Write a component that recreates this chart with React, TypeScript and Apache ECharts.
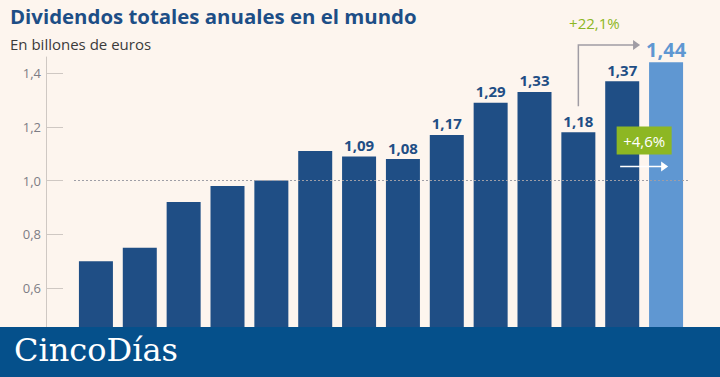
import React, { useEffect, useRef } from "react";
import * as echarts from "echarts";

const categories = ["2009", "2010", "2011", "2012", "2013", "2014", "2015", "2016", "2017", "2018", "2019", "2020", "2021", "2022"];
const values = [0.70, 0.75, 0.92, 0.98, 1.00, 1.11, 1.09, 1.08, 1.17, 1.29, 1.33, 1.18, 1.37, 1.44];
const labeledFrom = 6;
const yTicks = [0.6, 0.8, 1.0, 1.2, 1.4];
const refLine = 1.0;
const growthTotal = "+22,1%";
const growthLast = "+4,6%";

const DARK = "#1f4e85";
const LIGHT = "#5f97d2";
const BG = "#fdf5ee";
const GREEN = "#8db723";
const FONT = "'Open Sans', Lato, sans-serif";

const fmt = (v: number, d: number) => v.toFixed(d).replace(".", ",");

export default function App() {
  const ref = useRef<HTMLDivElement>(null);
  useEffect(() => {
    if (!ref.current) return;
    const chart = echarts.init(ref.current, undefined, { renderer: "svg" });
    const n = values.length;
    const data = values.map((v, i) => {
      const last = i === n - 1;
      return {
        value: v,
        itemStyle: { color: last ? LIGHT : DARK },
        label: {
          show: i >= labeledFrom,
          position: "top",
          distance: last ? 3 : 4,
          color: last ? LIGHT : DARK,
          fontSize: last ? 20 : 15,
          fontWeight: "bold",
          fontFamily: FONT,
          formatter: () => fmt(v, 2),
        },
      };
    });
    chart.setOption({
      animation: false,
      backgroundColor: BG,
      grid: { left: 74, right: 32, top: 57, bottom: 50 },
      xAxis: {
        type: "category",
        data: categories,
        axisLine: { show: false },
        axisTick: { show: false },
        axisLabel: { show: false },
      },
      yAxis: {
        type: "value",
        min: 0.455,
        max: 1.46,
        offset: 28,
        axisLine: { show: true, lineStyle: { color: "#cfc8c3", width: 1 } },
        axisTick: { show: true, inside: true, length: 17, customValues: yTicks, lineStyle: { color: "#cfc8c3" } },
        axisLabel: {
          customValues: yTicks,
          margin: 5,
          color: "#7d7d85",
          fontSize: 13,
          fontFamily: FONT,
          formatter: (v: number) => fmt(v, 1),
        },
        splitLine: { show: false },
      },
      series: [
        {
          type: "bar",
          data,
          barWidth: 34,
          markLine: {
            silent: true,
            symbol: "none",
            label: { show: false },
            lineStyle: { color: "#9e9ea6", type: [2, 2], width: 1 },
            data: [{ yAxis: refLine }],
          },
        },
      ],
    });

    const px = (i: number, v: number) => chart.convertToPixel({ seriesIndex: 0 }, [i, v]) as number[];
    const p12 = px(n - 3, values[n - 3]);
    const p13 = px(n - 2, values[n - 2]);
    const p14 = px(n - 1, values[n - 1]);
    const pRef = px(n - 1, refLine);
    const half = 17;
    const connTop = 45;
    const connBottom = p12[1] - 26;
    const arrowTipX = p14[0] - half - 9;
    const midX = (p13[0] + p14[0]) / 2;
    const boxW = 55;
    const boxH = 28;
    const boxY = pRef[1] - 54;
    const wArrowY = pRef[1] - 14;

    chart.setOption({
      graphic: [
        {
          type: "text",
          left: 10,
          top: 6,
          style: { text: "Dividendos totales anuales en el mundo", fill: "#1d4e86", font: `bold 20.4px ${FONT}` },
        },
        {
          type: "text",
          left: 10,
          top: 36,
          style: { text: "En billones de euros", fill: "#3b3b3b", font: `15px ${FONT}` },
        },
        {
          type: "polyline",
          shape: { points: [[p12[0], connBottom], [p12[0], connTop], [arrowTipX - 6, connTop]] },
          style: { stroke: "#a09ca4", lineWidth: 1.5, fill: null },
        },
        {
          type: "polygon",
          shape: { points: [[arrowTipX - 7, connTop - 5], [arrowTipX, connTop], [arrowTipX - 7, connTop + 5]] },
          style: { fill: "#a09ca4" },
        },
        {
          type: "text",
          x: p12[0] + 16,
          y: 23,
          style: { text: growthTotal, fill: GREEN, font: `15px ${FONT}`, align: "center", verticalAlign: "middle" },
        },
        {
          type: "rect",
          shape: { x: midX - boxW / 2, y: boxY, width: boxW, height: boxH },
          style: { fill: GREEN },
          z: 10,
        },
        {
          type: "text",
          x: midX,
          y: boxY + boxH / 2,
          z: 11,
          style: { text: growthLast, fill: "#ffffff", font: `15px ${FONT}`, align: "center", verticalAlign: "middle" },
        },
        {
          type: "line",
          z: 10,
          shape: { x1: midX - 24, y1: wArrowY, x2: midX + 18, y2: wArrowY },
          style: { stroke: "#ffffff", lineWidth: 1.5 },
        },
        {
          type: "polygon",
          z: 10,
          shape: { points: [[midX + 17, wArrowY - 5], [midX + 24, wArrowY], [midX + 17, wArrowY + 5]] },
          style: { fill: "#ffffff" },
        },
        {
          type: "rect",
          z: 20,
          shape: { x: 0, y: 327, width: 720, height: 50 },
          style: { fill: "#05508b" },
        },
        {
          type: "text",
          z: 21,
          left: 14,
          top: 334,
          style: { text: "CincoDías", fill: "#ffffff", font: `32px 'DejaVu Serif', serif` },
        },
      ],
    });
    return () => chart.dispose();
  }, []);
  return <div ref={ref} style={{ position: "fixed", left: 0, top: 0, width: 720, height: 377 }} />;
}
